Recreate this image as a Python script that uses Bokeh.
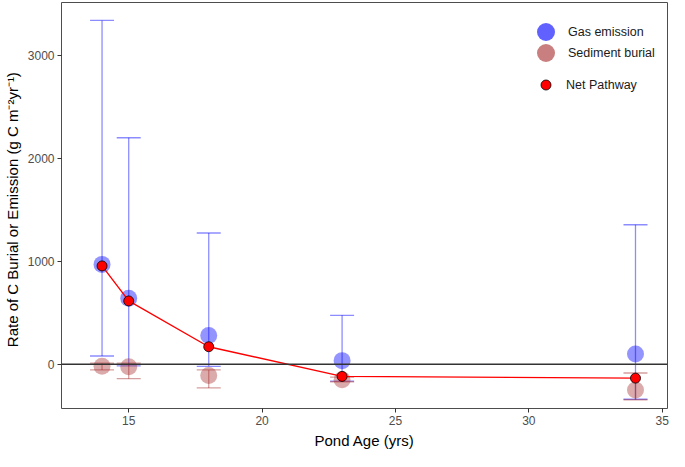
from bokeh.plotting import figure
from bokeh.models import (ColumnDataSource, Whisker, TeeHead, Span, Legend,
                          LegendItem, FixedTicker, Range1d)
from bokeh.embed import file_html
from bokeh.resources import INLINE

pond_age = [14, 15, 18, 23, 34]
gas_emission = [970, 640, 280, 35, 100]
gas_upper = [3340, 2200, 1275, 475, 1355]
gas_lower = [80, -15, -20, -165, -340]
sediment_burial = [-20, -25, -110, -150, -250]
sed_upper = [10, 10, -55, -125, -85]
sed_lower = [-55, -140, -230, -170, -345]
net_pathway = [955, 615, 170, -118, -135]
x_ticks = [15, 20, 25, 30, 35]
y_ticks = [0, 1000, 2000, 3000]

FONT = "Liberation Sans"
NAN = float("nan")

p = figure(width=669, height=451, output_backend="svg", toolbar_location=None,
           x_range=Range1d(12.48, 35.2), y_range=Range1d(-430, 3514),
           min_border_top=2, min_border_right=2, min_border_left=10, min_border_bottom=0)
p.xgrid.visible = False
p.ygrid.visible = False
p.outline_line_color = "#4d4d4d"
p.outline_line_width = 1
p.background_fill_color = "white"

for ax in (p.xaxis[0], p.yaxis[0]):
    ax.axis_line_color = None
    ax.major_tick_line_color = "#333333"
    ax.major_tick_out = 4
    ax.major_tick_in = 0
    ax.minor_tick_line_color = None
    ax.major_label_text_font = FONT
    ax.major_label_text_font_size = "12px"
    ax.major_label_text_color = "#4d4d4d"
    ax.axis_label_text_font = FONT
    ax.axis_label_text_font_size = "15px"
    ax.axis_label_text_font_style = "normal"
    ax.axis_label_text_color = "black"
    ax.major_label_standoff = 3
    ax.axis_label_standoff = 4

p.xaxis.ticker = FixedTicker(ticks=x_ticks)
p.yaxis.ticker = FixedTicker(ticks=y_ticks)
p.xaxis.axis_label = "Pond Age (yrs)"
p.yaxis.axis_label = "Rate of C Burial or Emission (g C   m\u207b\u00b2yr\u207b\u00b9)"

p.add_layout(Span(location=0, dimension="width", line_color="#333333", line_width=1.3))

gas_src = ColumnDataSource(dict(x=pond_age, y=gas_emission, upper=gas_upper, lower=gas_lower))
sed_src = ColumnDataSource(dict(x=pond_age, y=sediment_burial, upper=sed_upper, lower=sed_lower))
net_src = ColumnDataSource(dict(x=pond_age, y=net_pathway))

def whisker(src, color):
    return Whisker(source=src, base="x", upper="upper", lower="lower",
                   line_color=color, line_alpha=0.45, line_width=1.3,
                   upper_head=TeeHead(size=24, line_color=color, line_alpha=0.45, line_width=1.3),
                   lower_head=TeeHead(size=24, line_color=color, line_alpha=0.45, line_width=1.3))

p.add_layout(whisker(gas_src, "blue"))
p.add_layout(whisker(sed_src, "brown"))

p.scatter("x", "y", source=gas_src, size=17, fill_color="blue", fill_alpha=0.42, line_color=None)
p.scatter("x", "y", source=sed_src, size=17, fill_color="brown", fill_alpha=0.4, line_color=None)
p.line("x", "y", source=net_src, line_color="red", line_width=1.4)
p.scatter("x", "y", source=net_src, size=10, fill_color="red", line_color="black", line_width=0.8)

# legend-only renderers (no visible data)
lg_gas = p.scatter(x=[NAN], y=[NAN], size=18, fill_color="blue", fill_alpha=0.62, line_color=None)
lg_sed = p.scatter(x=[NAN], y=[NAN], size=17, fill_color="brown", fill_alpha=0.6, line_color=None)
lg_net = p.scatter(x=[NAN], y=[NAN], size=10, fill_color="red", line_color="black", line_width=0.8)

def make_legend(label, rend, box, loc, standoff):
    lg = Legend(items=[LegendItem(label=label, renderers=[rend])], location=loc,
                glyph_width=box, glyph_height=box, label_standoff=standoff,
                padding=0, margin=0, border_line_color=None, background_fill_alpha=0,
                label_text_font=FONT, label_text_font_size="12.5px", label_text_color="#1a1a1a",
                label_height=box)
    p.add_layout(lg, "center")

make_legend("Gas emission", lg_gas, 45, (462, 354), 0)
make_legend("Sediment burial", lg_sed, 45, (462, 333), 0)
make_legend("Net Pathway", lg_net, 25, (472, 311), 8)

open("out.html", "w").write(file_html(p, INLINE))
